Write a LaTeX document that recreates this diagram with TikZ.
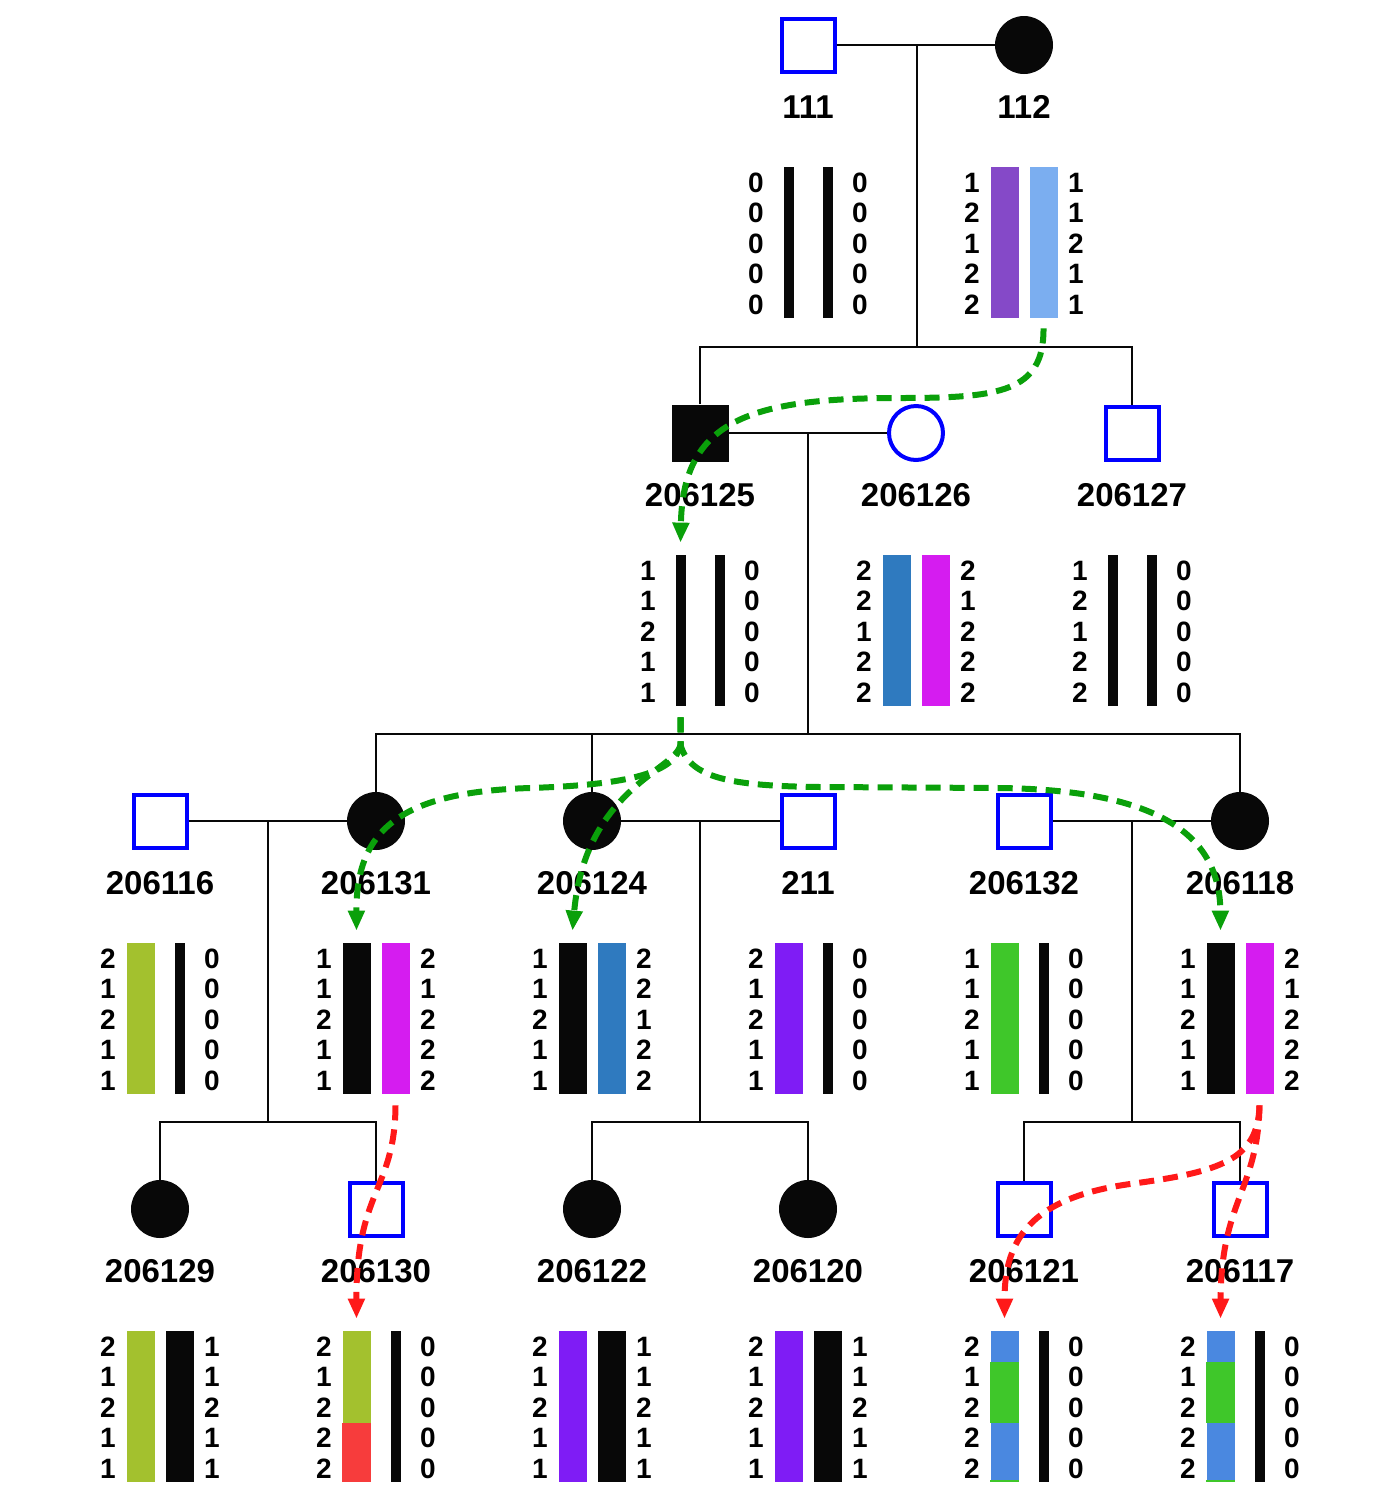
\documentclass[tikz,border=0pt]{standalone}
\usepackage{fontspec}
\setmainfont{Liberation Sans}
\usetikzlibrary{arrows.meta}

\definecolor{symblue}{RGB}{0,0,255}
\definecolor{ink}{RGB}{8,8,8}
\definecolor{hpurple}{RGB}{133,73,200}
\definecolor{hlightblue}{RGB}{123,174,240}
\definecolor{hsteel}{RGB}{47,122,191}
\definecolor{hmagenta}{RGB}{213,28,240}
\definecolor{holive}{RGB}{163,193,46}
\definecolor{hviolet}{RGB}{127,28,245}
\definecolor{hgreen}{RGB}{63,199,42}
\definecolor{hred}{RGB}{247,60,60}
\definecolor{hblue}{RGB}{74,136,224}
\definecolor{flowgreen}{RGB}{10,160,10}
\definecolor{flowred}{RGB}{255,25,25}

% haplotype block under a person: two bars with allele columns on either side
% #1 name, #2 x, #3 symbol y, #4 left alleles, #5 right alleles, #6 left bar style, #7 right bar style
\newcommand\hapl[7]{%
  \node[#6] (#1-L) at ({#2-19.5},{#3+197.5}) {};
  \node[#7] (#1-R) at ({#2+19.5},{#3+197.5}) {};
  \foreach \dg [count=\i] in {#4}
    \node[allele] (#1-l\i) at ({#2-52},{#3+147+30.5*(\i-1)}) {\dg};
  \foreach \dg [count=\i] in {#5}
    \node[allele] (#1-r\i) at ({#2+52},{#3+147+30.5*(\i-1)}) {\dg};
}

\begin{document}
\begin{tikzpicture}[x=0.5pt,y=-0.5pt,
  male/.style={rectangle,draw=symblue,line width=2pt,fill=white,minimum size=26.5pt,inner sep=0pt},
  affmale/.style={rectangle,fill=ink,minimum size=28.5pt,inner sep=0pt},
  female/.style={circle,draw=symblue,line width=2pt,fill=white,minimum size=27pt,inner sep=0pt},
  afffemale/.style={circle,fill=ink,minimum size=29pt,inner sep=0pt},
  idlabel/.style={font=\bfseries\fontsize{16.5}{18}\selectfont,anchor=base,inner sep=0pt},
  allele/.style={font=\bfseries\fontsize{14}{16}\selectfont,anchor=base,inner sep=0pt},
  wideband/.style={rectangle,inner sep=0pt,minimum width=14pt,minimum height=75.5pt},
  thinband/.style={rectangle,inner sep=0pt,minimum width=5pt,minimum height=75.5pt,fill=ink},
  kin/.style={draw=ink,line width=1pt},
  flow/.style={draw=#1,line width=3pt,dash pattern=on 7.5pt off 4.5pt,
    -{Triangle[length=10pt,width=8pt,fill=#1]}}
]
\fill[white] (0,0) rectangle (1400,1500);
\useasboundingbox (0,0) rectangle (1400,1500);

% ---- people ----
\node[male]      (p111)    at (808,45) {};
\node[afffemale] (p112)    at (1024,45) {};
\node[affmale]   (p206125) at (700,433) {};
\node[female]    (p206126) at (916,433) {};
\node[male]      (p206127) at (1132,433) {};
\node[male]      (p206116) at (160,821) {};
\node[afffemale] (p206131) at (376,821) {};
\node[afffemale] (p206124) at (592,821) {};
\node[male]      (p211)    at (808,821) {};
\node[male]      (p206132) at (1024,821) {};
\node[afffemale] (p206118) at (1240,821) {};
\node[afffemale] (p206129) at (160,1209) {};
\node[male]      (p206130) at (376,1209) {};
\node[afffemale] (p206122) at (592,1209) {};
\node[afffemale] (p206120) at (808,1209) {};
\node[male]      (p206121) at (1024,1209) {};
\node[male]      (p206117) at (1240,1209) {};

% ---- identifiers ----
\foreach \id/\x/\y in {111/808/45,112/1024/45,
    206125/700/433,206126/916/433,206127/1132/433,
    206116/160/821,206131/376/821,206124/592/821,211/808/821,206132/1024/821,206118/1240/821,
    206129/160/1209,206130/376/1209,206122/592/1209,206120/808/1209,206121/1024/1209,206117/1240/1209}
  \node[idlabel] (l\id) at (\x,{\y+73}) {\id};

% ---- haplotypes ----
\hapl{h111}{808}{45}{0,0,0,0,0}{0,0,0,0,0}{thinband}{thinband}
\hapl{h112}{1024}{45}{1,2,1,2,2}{1,1,2,1,1}{wideband,fill=hpurple}{wideband,fill=hlightblue}
\hapl{h206125}{700}{433}{1,1,2,1,1}{0,0,0,0,0}{thinband}{thinband}
\hapl{h206126}{916}{433}{2,2,1,2,2}{2,1,2,2,2}{wideband,fill=hsteel}{wideband,fill=hmagenta}
\hapl{h206127}{1132}{433}{1,2,1,2,2}{0,0,0,0,0}{thinband}{thinband}
\hapl{h206116}{160}{821}{2,1,2,1,1}{0,0,0,0,0}{wideband,fill=holive}{thinband}
\hapl{h206131}{376}{821}{1,1,2,1,1}{2,1,2,2,2}{wideband,fill=ink}{wideband,fill=hmagenta}
\hapl{h206124}{592}{821}{1,1,2,1,1}{2,2,1,2,2}{wideband,fill=ink}{wideband,fill=hsteel}
\hapl{h211}{808}{821}{2,1,2,1,1}{0,0,0,0,0}{wideband,fill=hviolet}{thinband}
\hapl{h206132}{1024}{821}{1,1,2,1,1}{0,0,0,0,0}{wideband,fill=hgreen}{thinband}
\hapl{h206118}{1240}{821}{1,1,2,1,1}{2,1,2,2,2}{wideband,fill=ink}{wideband,fill=hmagenta}
\hapl{h206129}{160}{1209}{2,1,2,1,1}{1,1,2,1,1}{wideband,fill=holive}{wideband,fill=ink}
\hapl{h206130}{376}{1209}{2,1,2,2,2}{0,0,0,0,0}{wideband,fill=holive}{thinband}
\hapl{h206122}{592}{1209}{2,1,2,1,1}{1,1,2,1,1}{wideband,fill=hviolet}{wideband,fill=ink}
\hapl{h206120}{808}{1209}{2,1,2,1,1}{1,1,2,1,1}{wideband,fill=hviolet}{wideband,fill=ink}
\hapl{h206121}{1024}{1209}{2,1,2,2,2}{0,0,0,0,0}{wideband,fill=hblue}{thinband}
\hapl{h206117}{1240}{1209}{2,1,2,2,2}{0,0,0,0,0}{wideband,fill=hblue}{thinband}

% recombined segments
\fill[hred] ([yshift=-46pt]h206130-L.north west) rectangle (h206130-L.south east);
\foreach \h in {h206121,h206117}{
  \fill[hgreen] ([yshift=-15.5pt]\h-L.north west) rectangle ([yshift=-46pt]\h-L.north east);
  \fill[hgreen] ([yshift=1pt]\h-L.south west) rectangle (\h-L.south east);
}

% ---- pedigree lines ----
\coordinate (m1) at (917,45);   \coordinate (s1) at (917,347);
\coordinate (m2) at (808,433);  \coordinate (s2) at (808,734);
\coordinate (m3a) at (268,821); \coordinate (s3a) at (268,1122);
\coordinate (m3b) at (700,821); \coordinate (s3b) at (700,1122);
\coordinate (m3c) at (1132,821);\coordinate (s3c) at (1132,1122);

\draw[kin] (p111.east) -- (p112.west);
\draw[kin] (m1) -- (s1);
\draw[kin] (p206125.north) |- (s1) -| (p206127.north);

\draw[kin] (p206125.east) -- (p206126.west);
\draw[kin] (m2) -- (s2);
\draw[kin] (p206131.north) |- (s2) -| (p206118.north);
\draw[kin] (p206124.north) -- (p206124.north |- s2);

\draw[kin] (p206116.east) -- (p206131.west);
\draw[kin] (m3a) -- (s3a);
\draw[kin] (p206129.north) |- (s3a) -| (p206130.north);

\draw[kin] (p206124.east) -- (p211.west);
\draw[kin] (m3b) -- (s3b);
\draw[kin] (p206122.north) |- (s3b) -| (p206120.north);

\draw[kin] (p206132.east) -- (p206118.west);
\draw[kin] (m3c) -- (s3c);
\draw[kin] (p206121.north) |- (s3c) -| (p206117.north);

% ---- transmitted haplotypes ----
\coordinate (g1s) at ([yshift=-5pt]h112-R.south);
\coordinate (g1e) at ([yshift=6pt]h206125-L.north);
\draw[flow=flowgreen] (g1s) .. controls (1044,392) and (1000,398) .. (900,398)
  .. controls (750,398) and (683,420) .. (g1e);

\coordinate (g2s) at ([yshift=-5.5pt]h206125-L.south);
\coordinate (g2c) at (680.5,745);
\coordinate (g2a) at ([yshift=6pt]h206131-L.north);
\coordinate (g2b) at ([yshift=6pt]h206124-L.north);
\coordinate (g2d) at ([yshift=6pt]h206118-L.north);
\draw[flow=flowgreen] (g2s) -- (g2c) .. controls (675,775) and (620,785) .. (530,788)
  .. controls (400,792) and (356,830) .. (g2a);
\draw[flow=flowgreen] (g2s) -- (g2c) .. controls (675,770) and (585,790) .. (g2b);
\draw[flow=flowgreen] (g2s) -- (g2c) .. controls (690,778) and (730,786) .. (820,787)
  -- (1000,788) .. controls (1150,790) and (1220,830) .. (g2d);

\coordinate (r1s) at ([yshift=-5.5pt]h206131-R.south);
\coordinate (r1e) at ([yshift=6pt]h206130-L.north);
\draw[flow=flowred] (r1s) .. controls (395,1190) and (356,1190) .. (r1e);

\coordinate (r2s) at ([yshift=-5.5pt]h206118-R.south);
\coordinate (r2a) at ([yshift=6pt]h206121-L.north);
\coordinate (r2b) at ([yshift=6pt]h206117-L.north);
\draw[flow=flowred] (r2s) .. controls (1258,1160) and (1220,1172) .. (1130,1184)
  .. controls (1030,1198) and (1004.5,1240) .. (r2a);
\draw[flow=flowred] (r2s) .. controls (1258,1190) and (1221,1200) .. (r2b);
\end{tikzpicture}
\end{document}
